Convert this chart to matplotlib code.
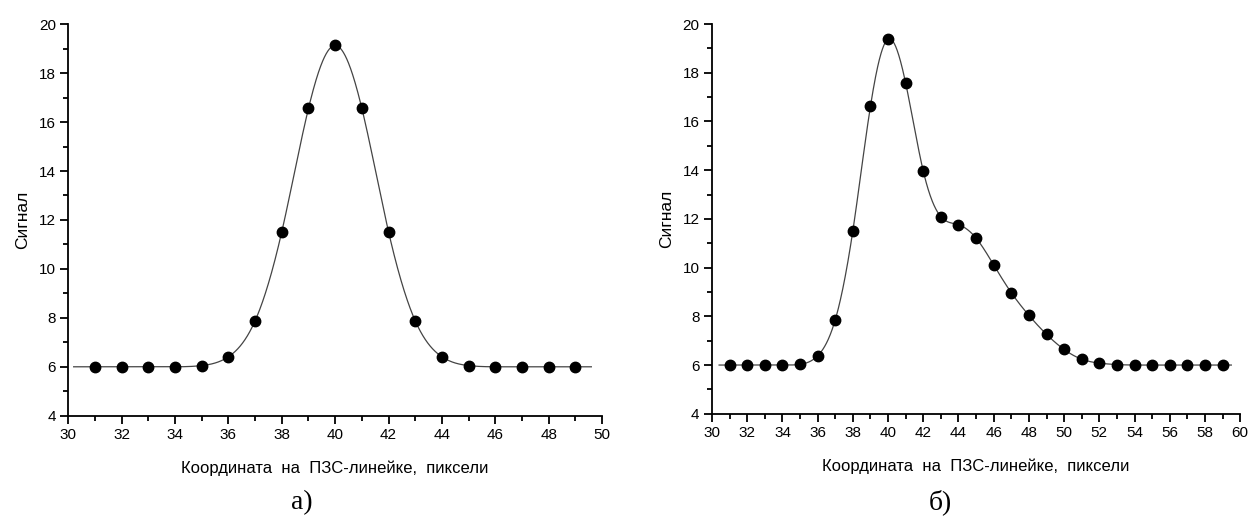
import numpy as np
import matplotlib
matplotlib.use("Agg")
import matplotlib.pyplot as plt
from matplotlib.ticker import MultipleLocator

# ---- data ----
x_a = list(range(31, 50))
y_a = [6.0, 6.0, 6.0, 6.0, 6.05, 6.41, 7.88, 11.52, 16.56, 19.13,
       16.56, 11.52, 7.88, 6.41, 6.05, 6.0, 6.0, 6.0, 6.0]

x_b = list(range(31, 60))
y_b = [6.0, 6.0, 6.0, 6.0, 6.03, 6.38, 7.86, 11.52, 16.63, 19.38,
       17.57, 13.96, 12.09, 11.76, 11.21, 10.11, 8.97, 8.04, 7.26, 6.64,
       6.24, 6.08, 6.02, 6.0, 6.0, 6.0, 6.0, 6.0, 6.0]

xlabel = "Координата  на  ПЗС-линейке,  пиксели"
ylabel = "Сигнал"
captions = ["а)", "б)"]

plt.rcParams['font.family'] = ['Liberation Sans', 'DejaVu Sans']


def natural_spline(x, y, xs):
    x = np.asarray(x, float); y = np.asarray(y, float)
    n = len(x)
    h = np.diff(x)
    A = np.zeros((n, n)); r = np.zeros(n)
    A[0, 0] = A[-1, -1] = 1
    for i in range(1, n - 1):
        A[i, i - 1] = h[i - 1]
        A[i, i] = 2 * (h[i - 1] + h[i])
        A[i, i + 1] = h[i]
        r[i] = 3 * ((y[i + 1] - y[i]) / h[i] - (y[i] - y[i - 1]) / h[i - 1])
    c = np.linalg.solve(A, r)
    b = (y[1:] - y[:-1]) / h - h * (2 * c[:-1] + c[1:]) / 3
    d = (c[1:] - c[:-1]) / (3 * h)
    out = np.empty_like(xs)
    for k, xv in enumerate(xs):
        if xv <= x[0]:
            out[k] = y[0]; continue
        if xv >= x[-1]:
            out[k] = y[-1]; continue
        i = min(np.searchsorted(x, xv) - 1, n - 2)
        t = xv - x[i]
        out[k] = y[i] + b[i] * t + c[i] * t * t + d[i] * t ** 3
    return out


fig = plt.figure(figsize=(12.49, 5.2), dpi=100)
axes_specs = [
    ([0.0547, 0.2005, 0.4273, 0.7530], (30, 50), x_a, y_a, (30.2, 49.6)),
    ([0.5701, 0.2043, 0.4228, 0.7495], (30, 60), x_b, y_b, (30.4, 59.5)),
]
cap_pos = [(0.2418, 0.034), (0.7526, 0.034)]

for k, (rect, xl, xs_, ys_, ext) in enumerate(axes_specs):
    ax = fig.add_axes(rect)
    xx = np.linspace(ext[0], ext[1], 1500)
    yy = natural_spline(xs_, ys_, xx)
    ax.plot(xx, yy, color='#444444', lw=0.9, zorder=2)
    ax.plot(xs_, ys_, 'o', color='black', ms=7.5, zorder=3)
    ax.set_xlim(*xl)
    ax.set_ylim(4, 20)
    ax.spines['top'].set_visible(False)
    ax.spines['right'].set_visible(False)
    for s in ('left', 'bottom'):
        ax.spines[s].set_linewidth(1.3)
    ax.xaxis.set_major_locator(MultipleLocator(2))
    ax.xaxis.set_minor_locator(MultipleLocator(1))
    ax.yaxis.set_major_locator(MultipleLocator(2))
    ax.yaxis.set_minor_locator(MultipleLocator(1))
    ax.tick_params(which='major', direction='out', length=6, width=1.3,
                   labelsize=11, pad=3)
    ax.tick_params(which='minor', direction='out', length=3.5, width=1.3)
    ax.set_xlabel(xlabel, fontsize=12, labelpad=13)
    ax.set_ylabel(ylabel, fontsize=12.5, labelpad=6)
    fig.text(cap_pos[k][0], cap_pos[k][1], captions[k], fontsize=20,
             family=['Liberation Serif', 'DejaVu Serif'], ha='center', va='center')

fig.savefig("out.png", dpi=100)
